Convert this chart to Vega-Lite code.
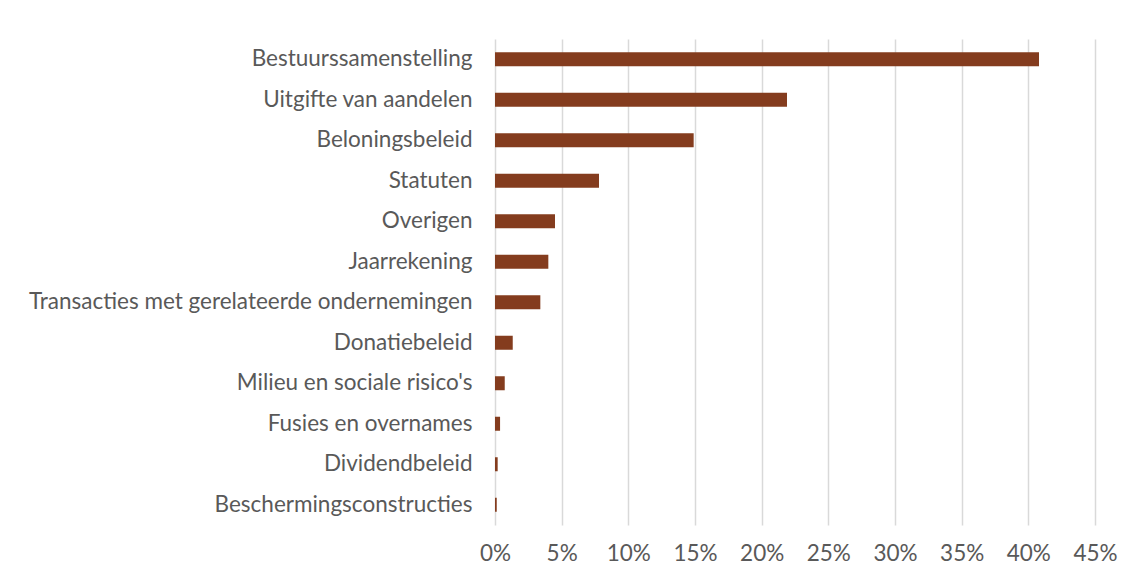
{
  "$schema": "https://vega.github.io/schema/vega-lite/v6.json",
  "width": 600,
  "height": 486,
  "autosize": {"type": "none"},
  "padding": {"left": 495, "top": 39, "right": 48, "bottom": 53},
  "background": "white",
  "data": {
    "values": [
      {"onderwerp": "Bestuurssamenstelling", "aandeel": 0.408},
      {"onderwerp": "Uitgifte van aandelen", "aandeel": 0.219},
      {"onderwerp": "Beloningsbeleid", "aandeel": 0.149},
      {"onderwerp": "Statuten", "aandeel": 0.078},
      {"onderwerp": "Overigen", "aandeel": 0.045},
      {"onderwerp": "Jaarrekening", "aandeel": 0.040},
      {"onderwerp": "Transacties met gerelateerde ondernemingen", "aandeel": 0.034},
      {"onderwerp": "Donatiebeleid", "aandeel": 0.0133},
      {"onderwerp": "Milieu en sociale risico's", "aandeel": 0.0073},
      {"onderwerp": "Fusies en overnames", "aandeel": 0.0038},
      {"onderwerp": "Dividendbeleid", "aandeel": 0.002},
      {"onderwerp": "Beschermingsconstructies", "aandeel": 0.0013}
    ]
  },
  "mark": {"type": "bar", "color": "#843C1E"},
  "encoding": {
    "y": {
      "field": "onderwerp",
      "type": "nominal",
      "sort": null,
      "title": null,
      "scale": {"paddingInner": 0.654, "paddingOuter": 0.327},
      "axis": {
        "domain": false,
        "ticks": false,
        "grid": false,
        "labelPadding": 23,
        "labelFont": "Lato",
        "labelFontSize": 22.5,
        "labelColor": "#595959",
        "labelLimit": 0
      }
    },
    "x": {
      "field": "aandeel",
      "type": "quantitative",
      "title": null,
      "scale": {"domain": [0, 0.45], "nice": false, "zero": true},
      "axis": {
        "values": [0, 0.05, 0.1, 0.15, 0.2, 0.25, 0.3, 0.35, 0.4, 0.45],
        "format": ".0%",
        "domain": false,
        "ticks": false,
        "grid": true,
        "gridColor": "#d9d9d9",
        "gridWidth": 1.5,
        "labelPadding": 17,
        "labelFont": "Lato",
        "labelFontSize": 22.5,
        "labelColor": "#595959",
        "labelFlush": false
      }
    }
  },
  "config": {"view": {"stroke": null}}
}
